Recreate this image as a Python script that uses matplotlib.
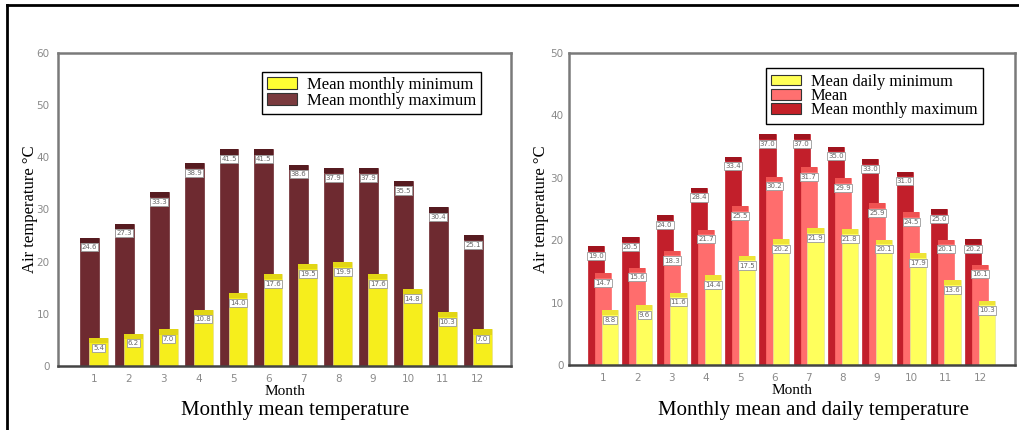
import numpy as np
import matplotlib
matplotlib.use("Agg")
import matplotlib.pyplot as plt
from matplotlib.lines import Line2D
from matplotlib.patches import Patch

months = np.arange(1, 13)

# left chart
min_monthly = [5.4, 6.2, 7.0, 10.8, 14.0, 17.6, 19.5, 19.9, 17.6, 14.8, 10.3, 7.0]
max_monthly = [24.6, 27.3, 33.3, 38.9, 41.5, 41.5, 38.6, 37.9, 37.9, 35.5, 30.4, 25.1]

# right chart
min_daily = [8.8, 9.6, 11.6, 14.4, 17.5, 20.2, 21.9, 21.8, 20.1, 17.9, 13.6, 10.3]
mean_daily = [14.7, 15.6, 18.3, 21.7, 25.5, 30.2, 31.7, 29.9, 25.9, 24.5, 20.1, 16.1]
max_daily = [19.0, 20.5, 24.0, 28.4, 33.4, 37.0, 37.0, 35.0, 33.0, 31.0, 25.0, 20.2]

serif = "Liberation Serif"
tick_col = "#8a8a8a"
spine_col = "#7a7a7a"


def bars3d(ax, x, vals, width, color, cap_color, cap, edge=None):
    vals = np.asarray(vals)
    ax.bar(x, vals, width, color=color, edgecolor=edge or color, linewidth=0.5, zorder=2)
    ax.bar(x, np.full_like(vals, cap), width, bottom=vals - cap, color=cap_color,
           linewidth=0, zorder=3)
    for xi, v in zip(x, vals):
        ax.annotate(f"{v:.1f}", (xi, v), xytext=(0, -7), textcoords="offset points",
                    ha="center", va="center", fontsize=5, color="#666666", zorder=5,
                    bbox=dict(boxstyle="square,pad=0.15", fc="white", ec="#9a9a9a", lw=0.6))


def style_axes(ax, ymax, pad):
    ax.set_ylim(0, ymax)
    ax.set_yticks(np.arange(0, ymax + 1, 10))
    ax.set_xticks(months)
    ax.tick_params(length=0, labelsize=7.5, colors=tick_col, pad=6)
    ax.tick_params(axis="y", pad=pad)
    for s in ax.spines.values():
        s.set_color(spine_col)
        s.set_linewidth(1.8)
    ax.spines["bottom"].set_color("#444444")


fig = plt.figure(figsize=(10.2, 4.3), dpi=100)

# left chart
ax1 = fig.add_axes([0.0569, 0.1488, 0.444, 0.728])
w1 = 0.54
bars3d(ax1, months - 0.13, max_monthly, w1, "#6e2a30", "#561b20", 1.0)
bars3d(ax1, months + 0.13, min_monthly, w1, "#f6ee1c", "#e2d614", 1.0, edge="#e8e090")
style_axes(ax1, 60, 6)
ax1.set_xlim(-0.03, 12.95)
ax1.set_ylabel("Air temperature °C", fontsize=12, family=serif, labelpad=-1)
ax1.text(0.5, -0.06, "Month", transform=ax1.transAxes, ha="center", va="top",
         fontsize=11, family=serif)
h1 = [Patch(fc="#ffff33", ec="#333333", lw=0.8), Patch(fc="#7a3a3e", ec="#333333", lw=0.8)]
leg1 = ax1.legend(h1, ["Mean monthly minimum", "Mean monthly maximum"],
                  loc="upper right", bbox_to_anchor=(0.4716, 0.8326),
                  bbox_transform=fig.transFigure, borderaxespad=0,
                  prop={"family": serif, "size": 12}, fancybox=False,
                  edgecolor="black", framealpha=1, handlelength=1.8, handleheight=0.7,
                  handletextpad=0.6, labelspacing=0.0, borderpad=0.3)
leg1.get_frame().set_linewidth(1.0)

# right chart
ax2 = fig.add_axes([0.558, 0.151, 0.437, 0.726])
w2 = 0.47
bars3d(ax2, months - 0.2, max_daily, w2, "#c21f2b", "#a0141e", 0.75)
bars3d(ax2, months, mean_daily, w2, "#ff6d6d", "#ef5252", 0.75)
bars3d(ax2, months + 0.2, min_daily, w2, "#ffff5c", "#efe436", 0.75, edge="#e6e6a0")
style_axes(ax2, 50, 4)
ax2.set_xlim(0.01, 13.02)
ax2.set_ylabel("Air temperature °C", fontsize=12, family=serif, labelpad=1)
ax2.text(0.5, -0.06, "Month", transform=ax2.transAxes, ha="center", va="top",
         fontsize=11, family=serif)
h2 = [Patch(fc="#ffff55", ec="#333333", lw=0.8), Patch(fc="#ff7070", ec="#333333", lw=0.8),
      Patch(fc="#c42028", ec="#333333", lw=0.8)]
leg2 = ax2.legend(h2, ["Mean daily minimum", "Mean", "Mean monthly maximum"],
                  loc="upper right", bbox_to_anchor=(0.9637, 0.8419),
                  bbox_transform=fig.transFigure, borderaxespad=0,
                  prop={"family": serif, "size": 11.8}, fancybox=False,
                  edgecolor="black", framealpha=1, handlelength=1.8, handleheight=0.6,
                  handletextpad=0.6, labelspacing=-0.1, borderpad=0.35)
leg2.get_frame().set_linewidth(1.0)

fig.text(295 / 1020, 1 - 410 / 430, "Monthly mean temperature", ha="center", va="center",
         fontsize=15, family=serif)
fig.text(813 / 1020, 1 - 410 / 430, "Monthly mean and daily temperature", ha="center",
         va="center", fontsize=15, family=serif)

# outer frame (top and left edges)
fx, fy = 7 / 1020, 1 - 5 / 430
fig.add_artist(Line2D([fx, 1], [fy, fy], color="black", lw=2, transform=fig.transFigure))
fig.add_artist(Line2D([fx, fx], [0, fy], color="black", lw=2, transform=fig.transFigure))

fig.savefig("out.png", dpi=100)
